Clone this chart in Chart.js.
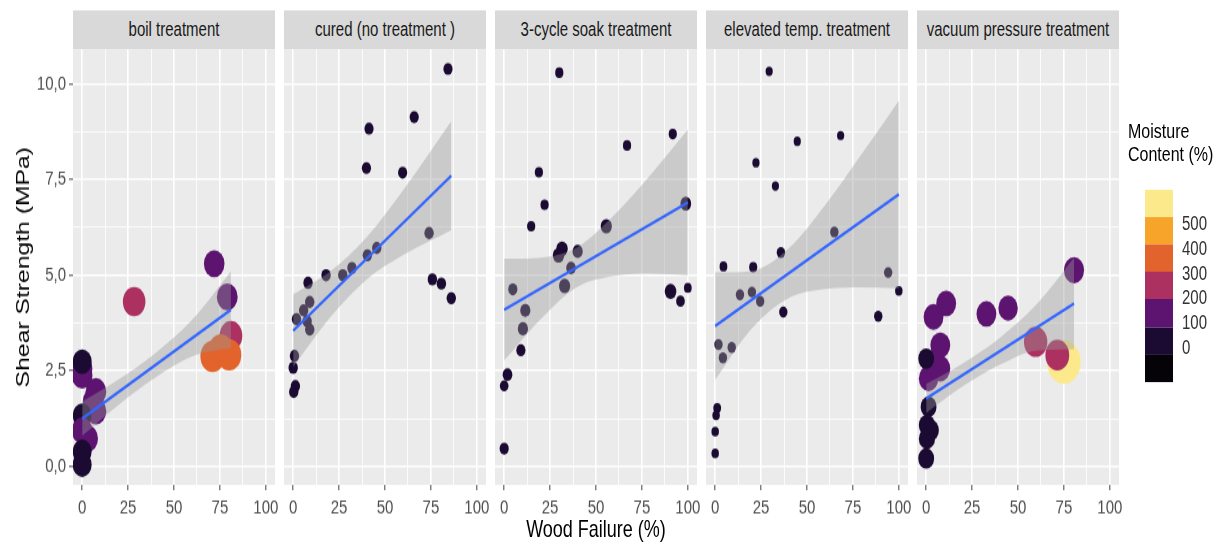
<!DOCTYPE html>
<html>
<head>
<meta charset="utf-8">
<script src="https://cdn.jsdelivr.net/npm/chart.js@4.4.0/dist/chart.umd.min.js"></script>
<style>
  html { overflow: hidden; }
  html, body { margin: 0; padding: 0; background: #fff; }
  body { width: 1223px; height: 551px; }
  #stage { position: relative; width: 1223px; height: 424px; transform: scaleY(1.3); transform-origin: 0 0;
           font-family: 'Liberation Sans', Arial, sans-serif; }
  .strip { position: absolute; top: 8px; height: 30px; background: #d9d9d9; color: #1a1a1a;
           font-size: 15px; line-height: 30px; text-align: center; white-space: nowrap; }
  canvas { position: absolute; }
  #xtitle { position: absolute; left: 496px; width: 200px; top: 397px; text-align: center; font-size: 18px; line-height: 20px; color: #000; }
  .legtitle { position: absolute; left: 1128px; font-size: 16px; line-height: 18px; color: #000; }
  .band { position: absolute; left: 1145px; width: 28px; }
  .blabel { position: absolute; left: 1182px; font-size: 15px; line-height: 16px; color: #333; }
</style>
</head>
<body>
<div id="stage"></div>
<script>
// facets and axes
const panelNames = ['boil treatment', 'cured (no treatment )', '3-cycle soak treatment', 'elevated temp. treatment', 'vacuum pressure treatment'];
const xTicks = [0, 12.5, 25, 37.5, 50, 62.5, 75, 87.5, 100];
const yTicks = [0, 1.25, 2.5, 3.75, 5, 6.25, 7.5, 8.75, 10];
const moistureBreaks = [0, 100, 200, 300, 400, 500];
const moistureColors = ['#050308', '#1b0b32', '#5d1470', '#ac3160', '#e3632c', '#f7a42a', '#fce98c'];

// boil treatment
const boilWF = [0, 0, 0, 6, 7.5, 7.5, 0, 0, 3, 0, 0, 28.3, 71.9, 79, 81, 71, 75.5, 80];
const boilSS = [2.38, 2.55, 2.74, 1.7, 1.96, 1.45, 1.33, 0.94, 0.73, 0.39, 0.05, 4.31, 5.3, 4.43, 3.42, 2.88, 3.05, 2.92];
const boilMC = [150, 140, 70, 160, 150, 150, 60, 140, 150, 60, 70, 250, 150, 160, 260, 340, 330, 340];
const boilFitWF = [0, 81];
const boilFitSS = [1.25, 4.1];
const boilBandWF = [0, 20, 40, 60, 81];
const boilBandLo = [0.8, 1.62, 2.33, 2.88, 3.1];
const boilBandHi = [1.7, 2.28, 2.97, 3.84, 5.1];

// cured (no treatment)
const curedWF = [84.3, 65.9, 41.3, 39.9, 59.6, 74, 45.5, 40.4, 32, 27, 17.9, 8.1, 75.8, 80.7, 86.1, 9, 5.7, 1.8, 7.6, 9, 0.7, 0, 1.2, 0.3];
const curedSS = [10.39, 9.13, 8.83, 7.8, 7.68, 6.1, 5.71, 5.52, 5.19, 5.0, 5.0, 4.8, 4.89, 4.78, 4.4, 4.3, 4.08, 3.85, 3.8, 3.58, 2.89, 2.58, 2.1, 1.95];
const curedMC = [20, 20, 20, 20, 20, 30, 30, 30, 30, 30, 30, 30, 30, 30, 30, 30, 30, 30, 30, 30, 30, 30, 30, 30];
const curedFitWF = [0, 86.1];
const curedFitSS = [3.55, 7.6];
const curedBandWF = [0, 20, 40, 60, 86.1];
const curedBandLo = [2.6, 3.89, 4.89, 5.53, 6.18];
const curedBandHi = [4.5, 5.09, 5.99, 7.23, 9.02];

// 3-cycle soak treatment
const soakWF = [30, 91.8, 66.9, 18.9, 22, 14.7, 55.6, 98.9, 31.5, 29.6, 40, 36.4, 32.9, 4.7, 90.6, 100, 96, 11.5, 10.2, 9.1, 1.8, 0, 0];
const soakSS = [10.29, 8.69, 8.39, 7.69, 6.84, 6.28, 6.28, 6.87, 5.69, 5.52, 5.62, 5.19, 4.72, 4.63, 4.58, 4.67, 4.32, 4.08, 3.6, 3.04, 2.4, 2.11, 0.47];
const soakMC = [20, 20, 20, 20, 20, 20, 80, 70, 85, 85, 60, 50, 80, 40, 90, 10, 30, 60, 60, 40, 50, 30, 40];
const soakFitWF = [0, 100];
const soakFitSS = [4.1, 6.9];
const soakBandWF = [0, 20, 40, 60, 80, 100];
const soakBandLo = [2.77, 3.86, 4.7, 4.98, 5.04, 5.0];
const soakBandHi = [5.43, 5.46, 5.74, 6.58, 7.64, 8.8];

// elevated temp. treatment
const tempWF = [29.4, 68.3, 44.7, 22.2, 32.8, 64.9, 35.8, 4.5, 20.7, 94.2, 100, 13.5, 20, 24.5, 37.1, 88.8, 1.8, 9, 4.2, 1.1, 0.5, 0, 0];
const tempSS = [10.33, 8.65, 8.5, 7.94, 7.33, 6.13, 5.59, 5.23, 5.21, 5.07, 4.59, 4.49, 4.56, 4.32, 4.04, 3.93, 3.19, 3.11, 2.84, 1.53, 1.34, 0.91, 0.34];
const tempMC = [20, 20, 20, 20, 20, 60, 60, 40, 50, 60, 30, 60, 60, 60, 60, 60, 60, 60, 60, 40, 30, 30, 30];
const tempFitWF = [0, 100];
const tempFitSS = [3.67, 7.11];
const tempBandWF = [0, 20, 40, 60, 80, 100];
const tempBandLo = [2.27, 3.61, 4.4, 4.64, 4.68, 4.66];
const tempBandHi = [5.07, 5.11, 5.7, 6.84, 8.18, 9.56];

// vacuum pressure treatment
const vacWF = [80.5, 10.9, 4, 32.8, 44.6, 7.7, 7.7, 3, 1.3, 0, 75, 59.6, 71.4, 1.3, 2.5, 0.4, 0.4, 0];
const vacSS = [5.13, 4.26, 3.91, 3.99, 4.14, 3.17, 2.56, 2.7, 2.3, 2.82, 2.73, 3.26, 2.91, 1.56, 0.95, 1.08, 0.73, 0.21];
const vacMC = [160, 150, 150, 150, 140, 150, 150, 160, 140, 40, 530, 250, 260, 40, 50, 50, 50, 40];
const vacFitWF = [0, 80.5];
const vacFitSS = [1.78, 4.26];
const vacBandWF = [0, 20, 40, 60, 80.5];
const vacBandLo = [1.4, 2.1, 2.66, 3.03, 3.06];
const vacBandHi = [2.16, 2.7, 3.36, 4.23, 5.46];

const panels = [
  { wf: boilWF, ss: boilSS, mc: boilMC, fitWF: boilFitWF, fitSS: boilFitSS, bandWF: boilBandWF, lo: boilBandLo, hi: boilBandHi },
  { wf: curedWF, ss: curedSS, mc: curedMC, fitWF: curedFitWF, fitSS: curedFitSS, bandWF: curedBandWF, lo: curedBandLo, hi: curedBandHi },
  { wf: soakWF, ss: soakSS, mc: soakMC, fitWF: soakFitWF, fitSS: soakFitSS, bandWF: soakBandWF, lo: soakBandLo, hi: soakBandHi },
  { wf: tempWF, ss: tempSS, mc: tempMC, fitWF: tempFitWF, fitSS: tempFitSS, bandWF: tempBandWF, lo: tempBandLo, hi: tempBandHi },
  { wf: vacWF, ss: vacSS, mc: vacMC, fitWF: vacFitWF, fitSS: vacFitSS, bandWF: vacBandWF, lo: vacBandLo, hi: vacBandHi }
];

// layout (unstretched px) and point size mapping per facet
const plotLeft = [73, 284, 495, 706, 917];
const plotW = 202, plotTop = 38, plotH = 335, xAxisH = 30, padR = 8;
const sizeMap = [[8.8, 0.01], [4.4, 0.01], [3.6, 0.025], [3.3, 0.015], [7.2, 0.018]];

Chart.defaults.font.family = "'Liberation Sans', Arial, sans-serif";

function mcColor(v) {
  let i = 0;
  while (i < moistureBreaks.length && v >= moistureBreaks[i]) i++;
  return moistureColors[i];
}
function xy(xs, ys) { return xs.map((x, i) => ({ x: x, y: ys[i] })); }

const panelBg = {
  id: 'panelBg',
  beforeDraw(chart) {
    const { ctx, chartArea: a } = chart;
    ctx.save();
    ctx.fillStyle = '#ebebeb';
    ctx.fillRect(a.left, a.top, a.width, a.height);
    ctx.restore();
  }
};

const stage = document.getElementById('stage');

panels.forEach((p, k) => {
  const first = k === 0;
  const yw = first ? plotLeft[0] : 0;

  const strip = document.createElement('div');
  strip.className = 'strip';
  strip.style.left = plotLeft[k] + 'px';
  strip.style.width = plotW + 'px';
  strip.textContent = panelNames[k];
  stage.appendChild(strip);

  const cv = document.createElement('canvas');
  cv.width = yw + plotW + padR;
  cv.height = plotH + xAxisH;
  cv.style.left = (plotLeft[k] - yw) + 'px';
  cv.style.top = plotTop + 'px';
  stage.appendChild(cv);

  const [r0, rk] = sizeMap[k];

  new Chart(cv.getContext('2d'), {
    type: 'scatter',
    data: {
      datasets: [
        { type: 'line', data: xy(p.fitWF, p.fitSS), borderColor: '#3366ff', borderWidth: 2.2,
          pointRadius: 0, fill: false, order: 0 },
        { type: 'line', data: xy(p.bandWF, p.lo), borderWidth: 0, borderColor: 'rgba(0,0,0,0)',
          pointRadius: 0, fill: false, cubicInterpolationMode: 'monotone', order: 1 },
        { type: 'line', data: xy(p.bandWF, p.hi), borderWidth: 0, borderColor: 'rgba(0,0,0,0)',
          pointRadius: 0, fill: '-1', backgroundColor: 'rgba(153,153,153,0.4)',
          cubicInterpolationMode: 'monotone', order: 1 },
        { type: 'scatter', data: xy(p.wf, p.ss), order: 2,
          pointBackgroundColor: p.mc.map(mcColor), pointBorderWidth: 0,
          pointRadius: p.mc.map(m => r0 + rk * m) }
      ]
    },
    options: {
      responsive: false,
      animation: false,
      events: [],
      layout: { autoPadding: false, padding: { left: 0, right: padR, top: 0, bottom: 0 } },
      plugins: { legend: { display: false }, tooltip: { enabled: false } },
      scales: {
        x: {
          type: 'linear', min: -5, max: 105,
          afterBuildTicks: s => { s.ticks = xTicks.map(v => ({ value: v })); },
          afterFit: s => { s.height = xAxisH; s.paddingLeft = 0; s.paddingRight = 0; },
          border: { display: false },
          grid: {
            color: '#ffffff',
            lineWidth: c => (c.tick && c.tick.value % 25 === 0 ? 1.6 : 0.8),
            drawTicks: true, tickLength: 4, tickWidth: 1.1,
            tickColor: c => (c.tick && c.tick.value % 25 === 0 ? '#555' : 'rgba(0,0,0,0)')
          },
          ticks: { autoSkip: false, maxRotation: 0, padding: 5, color: '#4d4d4d', font: { size: 15 },
                   callback: v => (v % 25 === 0 ? String(v) : '') }
        },
        y: {
          type: 'linear', min: -0.48, max: 10.9,
          afterBuildTicks: s => { s.ticks = yTicks.map(v => ({ value: v })); },
          afterFit: s => { s.width = yw; s.paddingTop = 0; s.paddingBottom = 0; },
          border: { display: false },
          grid: {
            color: '#ffffff',
            lineWidth: c => (c.tick && c.tick.value % 2.5 === 0 ? 1.6 : 0.8),
            drawTicks: first, tickLength: 4, tickWidth: 1.1,
            tickColor: c => (c.tick && c.tick.value % 2.5 === 0 ? '#555' : 'rgba(0,0,0,0)')
          },
          ticks: { display: first, autoSkip: false, padding: 3, color: '#4d4d4d', font: { size: 15 },
                   callback: v => (v % 2.5 === 0 ? v.toFixed(1).replace('.', ',') : '') },
          title: { display: first, text: 'Shear Strength (MPa)', color: '#000', font: { size: 19 },
                   padding: { top: 12, bottom: 0 } }
        }
      }
    },
    plugins: [panelBg]
  });
});

// shared x title
const xt = document.createElement('div');
xt.id = 'xtitle';
xt.textContent = 'Wood Failure (%)';
stage.appendChild(xt);

// colour legend
['Moisture', 'Content (%)'].forEach((t, i) => {
  const d = document.createElement('div');
  d.className = 'legtitle';
  d.style.top = (92 + i * 18) + 'px';
  d.textContent = t;
  stage.appendChild(d);
});
const bandTop = 146, bandH = 21.1;
moistureColors.slice().reverse().forEach((c, i) => {
  const d = document.createElement('div');
  d.className = 'band';
  d.style.top = (bandTop + i * bandH) + 'px';
  d.style.height = (bandH + 0.3) + 'px';
  d.style.background = c;
  stage.appendChild(d);
});
moistureBreaks.slice().reverse().forEach((b, i) => {
  const d = document.createElement('div');
  d.className = 'blabel';
  d.style.top = (164 + i * 18.9) + 'px';
  d.textContent = String(b);
  stage.appendChild(d);
});
</script>
</body>
</html>
